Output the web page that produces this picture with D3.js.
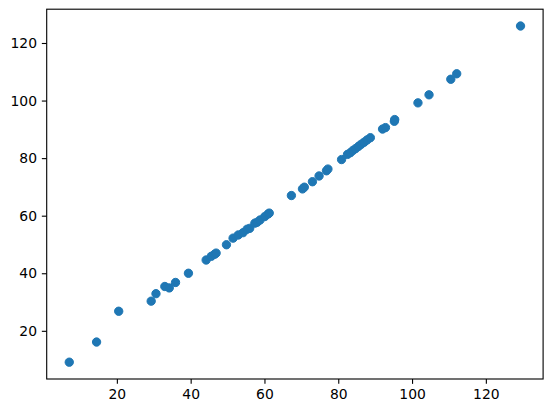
<!DOCTYPE html>
<html>
<head>
<meta charset="utf-8">
<script src="https://cdn.jsdelivr.net/npm/d3@7"></script>
<style>
  html, body { margin: 0; padding: 0; background: #fff; }
  svg { display: block; }
  text { font-family: "DejaVu Sans", sans-serif; }
</style>
</head>
<body>
<svg id="chart" width="552" height="413"></svg>
<script>
const xValues = [7.1, 14.5, 20.5, 29.3, 30.6, 33.0, 34.2, 35.9, 39.4, 44.2, 45.6, 46.5, 46.9, 49.7,
  51.5, 52.9, 54.2, 55.3, 56.0, 57.4, 58.0, 58.8, 60.1, 61.0, 61.3, 67.3, 70.3, 70.8, 73.0, 74.8,
  76.8, 77.2, 80.9, 82.5, 83.3, 84.0, 84.7, 85.5, 86.2, 87.0, 87.8, 88.7, 92.0, 92.8, 95.2, 95.3,
  101.6, 104.6, 110.5, 112.1, 129.4];
const yValues = [9.1, 16.1, 26.8, 30.3, 32.9, 35.4, 34.9, 36.8, 40.0, 44.6, 45.9, 46.6, 47.0, 49.9,
  52.2, 53.3, 54.1, 55.3, 55.6, 57.4, 57.7, 58.5, 59.7, 60.6, 60.9, 67.0, 69.3, 69.9, 71.8, 73.8,
  75.6, 76.2, 79.5, 81.3, 81.9, 82.7, 83.3, 84.1, 84.8, 85.5, 86.3, 87.1, 90.1, 90.6, 92.8, 93.4,
  99.2, 102.0, 107.4, 109.3, 125.9];
const xTicks = [20, 40, 60, 80, 100, 120];
const yTicks = [20, 40, 60, 80, 100, 120];

const margin = { left: 46.7, right: 552 - 543.1, top: 9.2, bottom: 413 - 379.0 };
const W = 552, H = 413;
const svg = d3.select("#chart");

function padded(vals) {
  const [lo, hi] = d3.extent(vals);
  const m = (hi - lo) * 0.05;
  return [lo - m, hi + m];
}

const x = d3.scaleLinear().domain(padded(xValues)).range([margin.left, W - margin.right]);
const y = d3.scaleLinear().domain(padded(yValues)).range([H - margin.bottom, margin.top]);

const data = xValues.map((v, i) => ({ x: v, y: yValues[i] }));

svg.append("g")
  .selectAll("circle")
  .data(data)
  .enter().append("circle")
  .attr("cx", d => x(d.x))
  .attr("cy", d => y(d.y))
  .attr("r", 4.17)
  .attr("fill", "#1f77b4")
  .attr("stroke", "#1f77b4")
  .attr("stroke-width", 1.0);

const xAxis = d3.axisBottom(x).tickValues(xTicks).tickSize(4.86).tickPadding(4.86).tickFormat(d3.format("d"));
const yAxis = d3.axisLeft(y).tickValues(yTicks).tickSize(4.86).tickPadding(4.86).tickFormat(d3.format("d"));

const gx = svg.append("g").attr("transform", `translate(0,${H - margin.bottom})`).call(xAxis);
const gy = svg.append("g").attr("transform", `translate(${margin.left},0)`).call(yAxis);
[gx, gy].forEach(g => {
  g.select(".domain").remove();
  g.selectAll(".tick line").attr("stroke", "#000").attr("stroke-width", 1.11);
  g.selectAll(".tick text").attr("fill", "#000").style("font-size", "13.9px").style("font-family", "'DejaVu Sans', sans-serif");
});

// frame (spines)
svg.append("rect")
  .attr("x", margin.left).attr("y", margin.top)
  .attr("width", W - margin.right - margin.left)
  .attr("height", H - margin.bottom - margin.top)
  .attr("fill", "none").attr("stroke", "#000").attr("stroke-width", 1.11);
</script>
</body>
</html>
